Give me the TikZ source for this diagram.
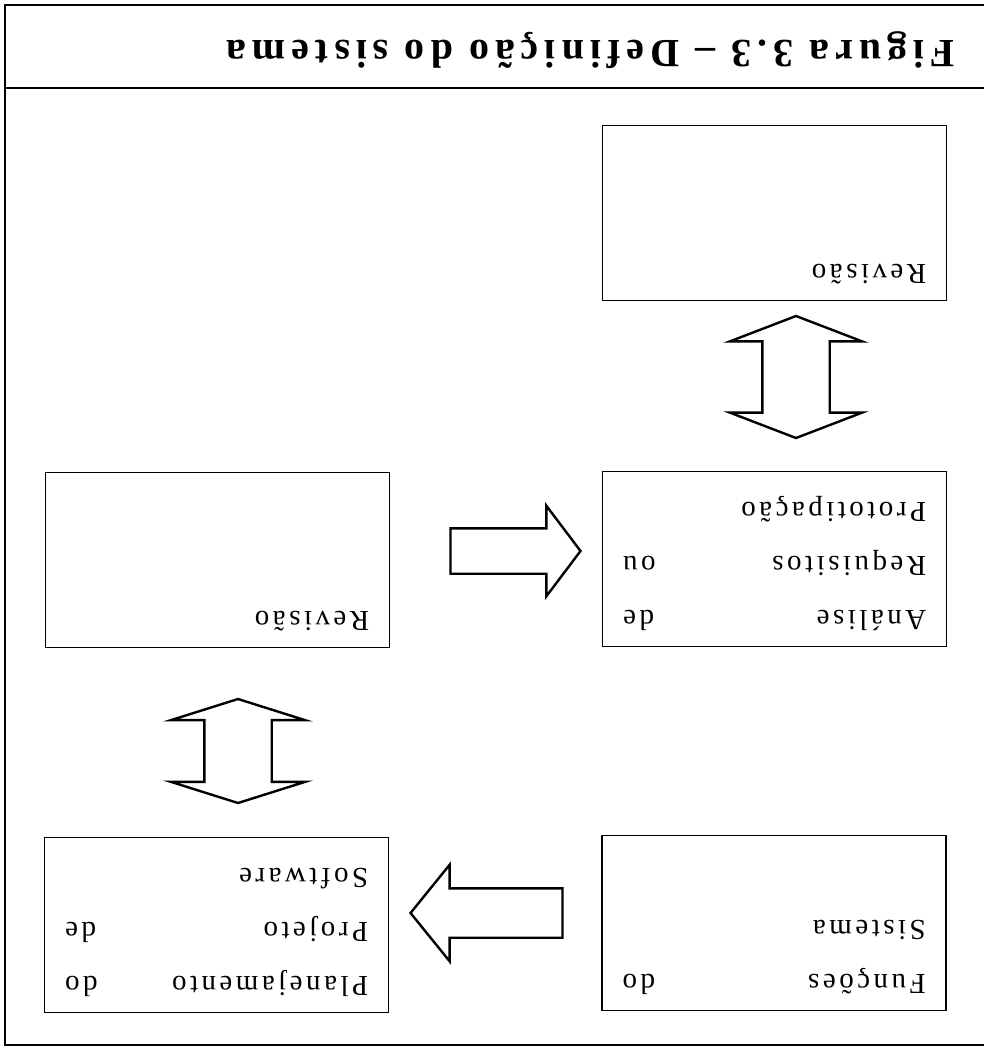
\documentclass[tikz,border=0pt]{standalone}
\usepackage{fontspec}
\setmainfont{Liberation Serif}
\newfontfamily\boxfont[LetterSpace=12]{Liberation Serif}
\newfontfamily\titlefont[LetterSpace=15]{Liberation Serif}
\usetikzlibrary{shapes.arrows,calc}

\begin{document}
\begin{tikzpicture}[x=1pt,y=-1pt]
      \tikzstyle{bbox} = [draw=black, rectangle, line width=1.8pt, minimum width=344pt, minimum height=175pt, inner sep=0pt]
      \tikzstyle{btext} = [rotate=180, anchor=north west, inner sep=0pt, text width=303pt, align=left, font=\boxfont\fontsize{29}{54}\selectfont]
      \tikzstyle{sarrow} = [draw=black, single arrow, line width=2.4pt, inner xsep=0pt, single arrow head indent=0pt]
      \tikzstyle{darrow} = [draw=black, double arrow, line width=2.4pt, inner xsep=0pt, double arrow head indent=0pt, rotate=90]

      \useasboundingbox (0,0) rectangle (984,1050);

      % frame and title band (page is seen upside down)
      \draw[line width=1.8pt] (990,5) -- (5,5) -- (5,1045) -- (990,1045);
      \draw[line width=1.8pt] (5,88) -- (990,88);
      \node[rotate=180, anchor=west, inner sep=0pt, font=\titlefont\bfseries\fontsize{40}{46}\selectfont] (title) at (955,50) {Figura 3.3 – Definição do sistema};

      % boxes
      \node[bbox] (revTop) at (774.5,213) {};
      \node[bbox] (req) at (774.5,559) {};
      \node[bbox] (revMid) at (217.5,560) {};
      \node[bbox] (plan) at (216.5,925) {};
      \node[bbox] (func) at (774,923) {};

      \node[btext] (revTopText) at ($(revTop.south east)+(-21,-17)$) {Revisão};
      \node[btext] (reqText) at ($(req.south east)+(-21,-17)$) {Análise\hfill de\\Requisitos\hfill ou\\Prototipação};
      \node[btext] (revMidText) at ($(revMid.south east)+(-21,-17)$) {Revisão};
      \node[btext] (planText) at ($(plan.south east)+(-21,-17)$) {Planejamento\hfill do\\Projeto\hfill de\\Software};
      \node[btext] (funcText) at ($(func.south east)+(-21,-17)$) {Funções\hfill do\\Sistema};

      % block arrows between the boxes
      \node[sarrow, anchor=tip, minimum height=130pt, inner ysep=21.5pt, single arrow head extend=22.5pt, single arrow tip angle=106] (toReq) at (582,551) {};
      \node[sarrow, anchor=tip, shape border rotate=180, minimum height=152pt, inner ysep=23.5pt, single arrow head extend=23.5pt, single arrow tip angle=102] (toPlan) at (409,913) {};
      \node[darrow, minimum height=122pt, inner ysep=32.5pt, double arrow head extend=32.5pt, double arrow tip angle=138] (reqRev) at (796,377) {};
      \node[darrow, minimum height=104pt, inner ysep=32.5pt, double arrow head extend=33.5pt, double arrow tip angle=145] (planRev) at (238,751) {};

    \end{tikzpicture}
\end{document}
